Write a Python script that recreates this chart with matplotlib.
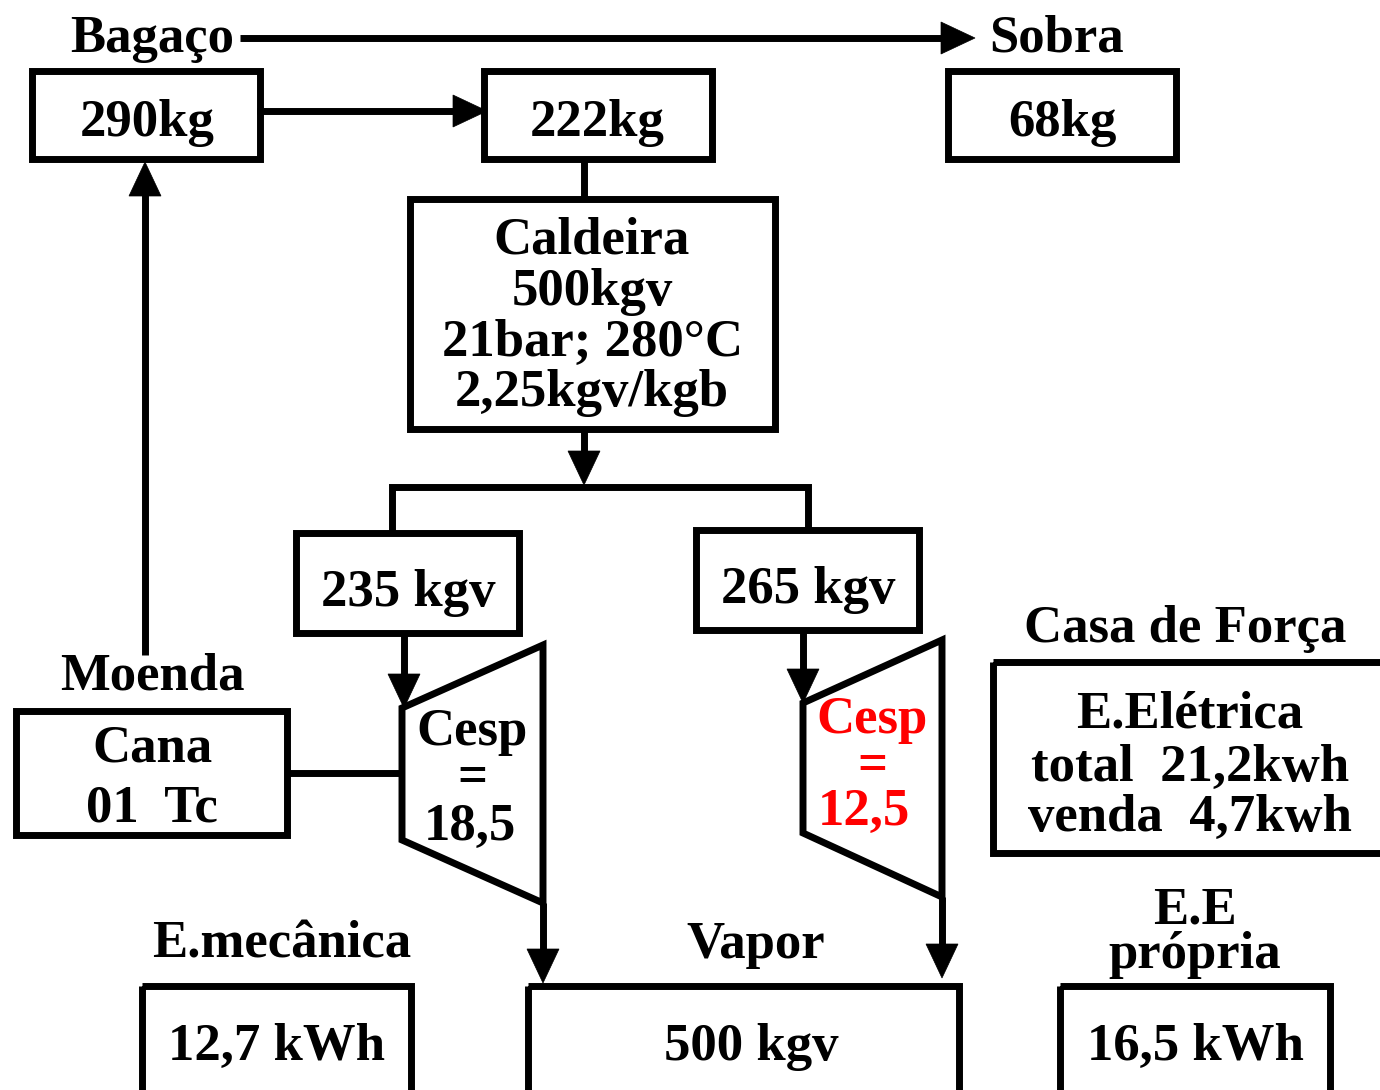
import matplotlib
matplotlib.use("Agg")
import matplotlib.pyplot as plt
from matplotlib.patches import Rectangle, Polygon

W, H = 1380, 1090
FONT = ["Liberation Serif", "DejaVu Serif"]
LW = 5.0  # points (~7 px)

# ---- content ----
top_labels = ["Bagaço", "Sobra"]
mass_labels = ["290kg", "222kg", "68kg"]
caldeira_lines = ["Caldeira", "500kgv", "21bar; 280°C", "2,25kgv/kgb"]
steam_split = ["235 kgv", "265 kgv"]
turbine_left = ["Cesp", "=", "18,5"]
turbine_right = ["Cesp", "=", "12,5"]
casa_title = "Casa de Força"
casa_lines = ["E.Elétrica", "total  21,2kwh", "venda  4,7kwh"]
moenda_title = "Moenda"
cana_lines = ["Cana", "01  Tc"]
bottom_titles = ["E.mecânica", "Vapor", "E.E\nprópria"]
bottom_values = ["12,7 kWh", "500 kgv", "16,5 kWh"]

fig = plt.figure(figsize=(W / 100, H / 100), dpi=100)
ax = fig.add_axes([0, 0, 1, 1])
ax.set_xlim(0, W)
ax.set_ylim(H, 0)
ax.axis("off")

FS = 38


def txt(x, y, s, color="black", fs=FS, va="baseline"):
    ax.text(x, y, s, ha="center", va=va, fontsize=fs, fontweight="bold",
            family=FONT, color=color)


def box(x0, y0, x1, y1):
    ax.add_patch(Rectangle((x0, y0), x1 - x0, y1 - y0, fill=False,
                           lw=LW, ec="black", joinstyle="miter", clip_on=False))


def line(xs, ys):
    ax.plot(xs, ys, color="black", lw=LW, solid_capstyle="butt",
            solid_joinstyle="miter")


def arrow(x0, y0, x1, y1, hl=34, hw=16):
    # line from (x0,y0) to (x1,y1) with filled triangular head at (x1,y1)
    dx, dy = x1 - x0, y1 - y0
    L = (dx ** 2 + dy ** 2) ** 0.5
    ux, uy = dx / L, dy / L
    bx, by = x1 - ux * hl, y1 - uy * hl
    line([x0, bx + ux * 2], [y0, by + uy * 2])
    px, py = -uy, ux
    ax.add_patch(Polygon([(x1, y1), (bx + px * hw, by + py * hw),
                          (bx - px * hw, by - py * hw)], closed=True,
                         fc="black", ec="black", lw=0.5))


# ---- top row ----
txt(152, 52, top_labels[0])
txt(1056, 52, top_labels[1])
arrow(240, 38, 975, 38)

box(32, 71, 260, 159)
box(484, 71, 712, 159)
box(948, 71, 1176, 159)
txt(147, 136, mass_labels[0])
txt(597, 136, mass_labels[1])
txt(1062, 136, mass_labels[2])
arrow(257, 111, 487, 111)

# ---- caldeira ----
line([584, 584], [159, 199])
box(410, 199, 775, 429)
for s, y in zip(caldeira_lines, [254, 305, 356, 406]):
    txt(592, y, s)
arrow(584, 429, 584, 485)

# split
line([392, 392, 808, 808], [533, 487, 487, 530])
box(296, 533, 519, 633)
box(696, 530, 919, 630)
txt(408, 606, steam_split[0])
txt(808, 603, steam_split[1])

# ---- left turbine ----
arrow(404, 633, 404, 708)
ax.add_patch(Polygon([(402, 708), (543, 645), (543, 903), (402, 840)],
                     closed=True, fill=False, lw=LW, ec="black",
                     joinstyle="miter"))
txt(472, 745, turbine_left[0])
txt(472, 778, turbine_left[1], va="center")
txt(470, 840, turbine_left[2])
arrow(543, 903, 543, 983)

# ---- right turbine ----
arrow(803, 630, 803, 703)
ax.add_patch(Polygon([(803, 703), (942, 640), (942, 897), (803, 833)],
                     closed=True, fill=False, lw=LW, ec="black",
                     joinstyle="miter"))
red = "#ff0000"
txt(872, 733, turbine_right[0], color=red)
txt(872, 766, turbine_right[1], color=red, va="center")
txt(864, 825, turbine_right[2], color=red)
arrow(942, 897, 942, 978)

# ---- casa de força ----
txt(1185, 642, casa_title)
box(993, 662, 1390, 853)
for s, y in zip(casa_lines, [727, 781, 831]):
    txt(1190, y, s)

# ---- moenda ----
txt(152, 690, moenda_title)
box(16, 711, 287, 835)
txt(152, 761, cana_lines[0])
txt(152, 822, cana_lines[1])
line([287, 402], [773, 773])
arrow(145, 655, 145, 162)

# ---- bottom row ----
txt(282, 958, bottom_titles[0])
txt(756, 958, bottom_titles[1])
t1, t2 = bottom_titles[2].split("\n")
txt(1195, 924, t1)
txt(1195, 968, t2)
box(142, 986, 411, 1100)
box(528, 986, 959, 1100)
box(1060, 986, 1330, 1100)
txt(276, 1060, bottom_values[0])
txt(751, 1060, bottom_values[1])
txt(1195, 1060, bottom_values[2])

fig.savefig("out.png", dpi=100)
